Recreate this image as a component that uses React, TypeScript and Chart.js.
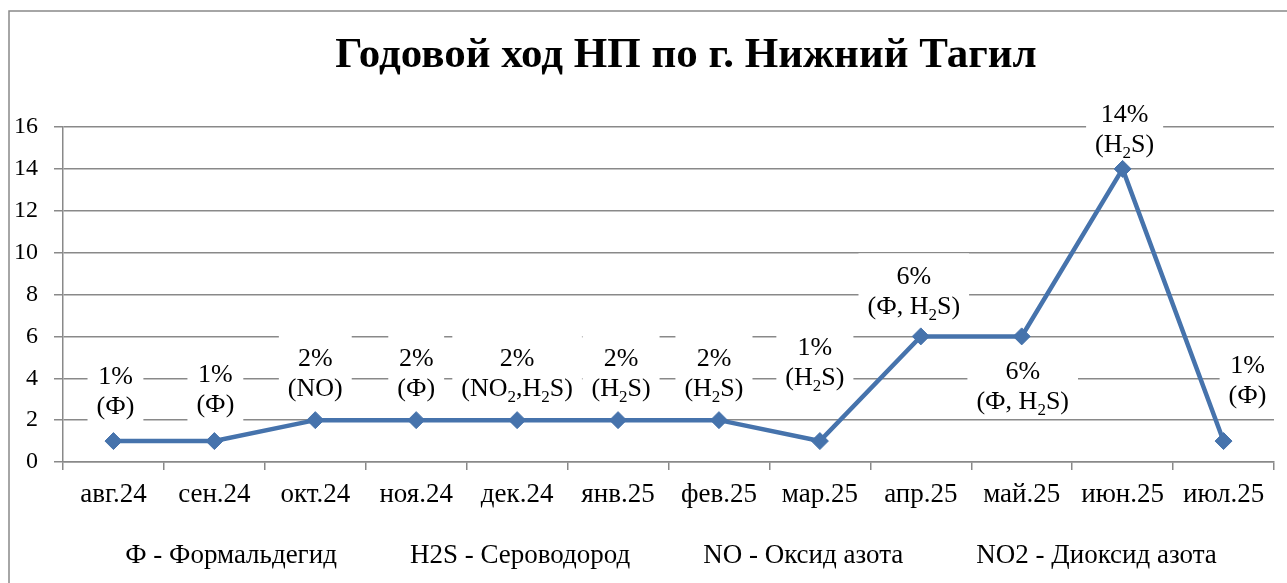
import React, { useEffect, useRef } from 'react';
import { Chart, registerables } from 'chart.js';

Chart.register(...registerables);

const titleText = 'Годовой ход НП по г. Нижний Тагил';
const months = ['авг.24', 'сен.24', 'окт.24', 'ноя.24', 'дек.24', 'янв.25', 'фев.25', 'мар.25', 'апр.25', 'май.25', 'июн.25', 'июл.25'];
const values = [1, 1, 2, 2, 2, 2, 2, 1, 6, 6, 14, 1];
const labelPercent = ['1%', '1%', '2%', '2%', '2%', '2%', '2%', '1%', '6%', '6%', '14%', '1%'];
// "_x" marks a subscript character
const labelSubstances = ['(Ф)', '(Ф)', '(NO)', '(Ф)', '(NO_2,H_2S)', '(H_2S)', '(H_2S)', '(H_2S)', '(Ф, H_2S)', '(Ф, H_2S)', '(H_2S)', '(Ф)'];
// label block centre relative to its point (px)
const labelOffsets = [[2, -51], [1, -53], [0, -48], [0, -48], [0, -48], [3, -48], [-5, -48], [-5, -80], [-7, -46], [1, 49], [2, -41], [24, -62]];
const legendItems = ['Ф - Формальдегид', 'H2S - Сероводород', 'NO - Оксид азота', 'NO2 - Диоксид азота'];
const yMin = 0;
const yMax = 16;
const yStep = 2;

const SERIF = '"Liberation Serif", "Times New Roman", serif';
const GRID = '#898989';
const LINE = '#4673AC';

type Seg = { text: string; sub: boolean };
function parseSegs(s: string): Seg[] {
  const out: Seg[] = [];
  let cur = '';
  for (let i = 0; i < s.length; i++) {
    if (s[i] === '_' && i + 1 < s.length) {
      if (cur) out.push({ text: cur, sub: false });
      cur = '';
      out.push({ text: s[i + 1], sub: true });
      i++;
    } else cur += s[i];
  }
  if (cur) out.push({ text: cur, sub: false });
  return out;
}

const MAIN_FONT = `26px ${SERIF}`;
const SUB_FONT = `17px ${SERIF}`;

function segWidth(ctx: CanvasRenderingContext2D, segs: Seg[]) {
  let w = 0;
  for (const s of segs) {
    ctx.font = s.sub ? SUB_FONT : MAIN_FONT;
    w += ctx.measureText(s.text).width;
  }
  return w;
}

function drawSegs(ctx: CanvasRenderingContext2D, segs: Seg[], cx: number, baseline: number) {
  const w = segWidth(ctx, segs);
  let x = cx - w / 2;
  ctx.textAlign = 'left';
  ctx.textBaseline = 'alphabetic';
  for (const s of segs) {
    ctx.font = s.sub ? SUB_FONT : MAIN_FONT;
    ctx.fillText(s.text, x, baseline + (s.sub ? 6 : 0));
    x += ctx.measureText(s.text).width;
  }
}

const decorPlugin = {
  id: 'decor',
  beforeDraw(chart: any) {
    const ctx = chart.ctx as CanvasRenderingContext2D;
    ctx.save();
    ctx.fillStyle = '#ffffff';
    ctx.fillRect(0, 0, chart.width, chart.height);
    ctx.strokeStyle = GRID;
    ctx.lineWidth = 1.5;
    ctx.beginPath();
    ctx.moveTo(9, chart.height);
    ctx.lineTo(9, 11);
    ctx.lineTo(chart.width, 11);
    ctx.stroke();
    // title
    ctx.fillStyle = '#000';
    ctx.font = `bold 43px ${SERIF}`;
    ctx.textAlign = 'center';
    ctx.textBaseline = 'alphabetic';
    ctx.fillText(titleText, 686, 67);
    // legend
    ctx.font = `27px ${SERIF}`;
    const gap = 73;
    const widths = legendItems.map((t) => ctx.measureText(t).width);
    const total = widths.reduce((a, b) => a + b, 0) + gap * (legendItems.length - 1);
    let x = 671 - total / 2;
    ctx.textAlign = 'left';
    legendItems.forEach((t, i) => {
      ctx.fillText(t, x, 563);
      x += widths[i] + gap;
    });
    ctx.restore();
  },
  beforeDatasetsDraw(chart: any) {
    const ctx = chart.ctx as CanvasRenderingContext2D;
    const meta = chart.getDatasetMeta(0);
    ctx.save();
    meta.data.forEach((pt: any, i: number) => {
      const cx = pt.x + labelOffsets[i][0];
      const cy = pt.y + labelOffsets[i][1];
      const w = Math.max(segWidth(ctx, parseSegs(labelPercent[i])), segWidth(ctx, parseSegs(labelSubstances[i])));
      ctx.fillStyle = '#ffffff';
      ctx.fillRect(cx - w / 2 - 9, cy - 37, w + 18, 70);
    });
    ctx.restore();
  },
  afterDatasetsDraw(chart: any) {
    const ctx = chart.ctx as CanvasRenderingContext2D;
    const meta = chart.getDatasetMeta(0);
    ctx.save();
    ctx.fillStyle = '#000';
    meta.data.forEach((pt: any, i: number) => {
      const cx = pt.x + labelOffsets[i][0];
      const cy = pt.y + labelOffsets[i][1];
      drawSegs(ctx, parseSegs(labelPercent[i]), cx, cy - 15 + 9);
      drawSegs(ctx, parseSegs(labelSubstances[i]), cx, cy + 15 + 9);
    });
    ctx.restore();
  },
};

export default function App() {
  const ref = useRef<HTMLCanvasElement | null>(null);
  useEffect(() => {
    if (!ref.current) return;
    const chart = new Chart(ref.current, {
      type: 'line',
      data: {
        labels: months,
        datasets: [
          {
            data: values,
            borderColor: LINE,
            backgroundColor: LINE,
            borderWidth: 4.5,
            pointStyle: 'rectRot',
            pointRadius: 8.5,
            pointBorderWidth: 1,
            pointBackgroundColor: LINE,
            pointBorderColor: LINE,
            tension: 0,
          },
        ],
      },
      options: {
        responsive: true,
        maintainAspectRatio: false,
        animation: false,
        events: [],
        layout: { padding: { left: 0, top: 127, right: 13, bottom: 0 } },
        plugins: { legend: { display: false }, title: { display: false }, tooltip: { enabled: false } },
        scales: {
          x: {
            type: 'category',
            offset: true,
            grid: { display: true, drawOnChartArea: false, drawTicks: true, tickLength: 8, color: GRID, lineWidth: 1.5, offset: true },
            border: { display: true, color: GRID, width: 1.5 },
            ticks: { color: '#000', font: { family: SERIF, size: 27 }, padding: 9, maxRotation: 0, autoSkip: false },
            afterFit: (s: any) => { s.height = 121; },
          },
          y: {
            min: yMin,
            max: yMax,
            ticks: { stepSize: yStep, color: '#000', font: { family: SERIF, size: 24 }, padding: 16 },
            grid: { color: GRID, lineWidth: 1.5, tickLength: 9, drawTicks: true },
            border: { display: true, color: GRID, width: 1.5 },
            afterFit: (s: any) => { s.width = 63; },
          },
        },
      },
      plugins: [decorPlugin],
    });
    return () => chart.destroy();
  }, []);
  return (
    <div style={{ position: 'fixed', left: 0, top: 0, width: 1287, height: 583, background: '#fff' }}>
      <canvas ref={ref} />
    </div>
  );
}
